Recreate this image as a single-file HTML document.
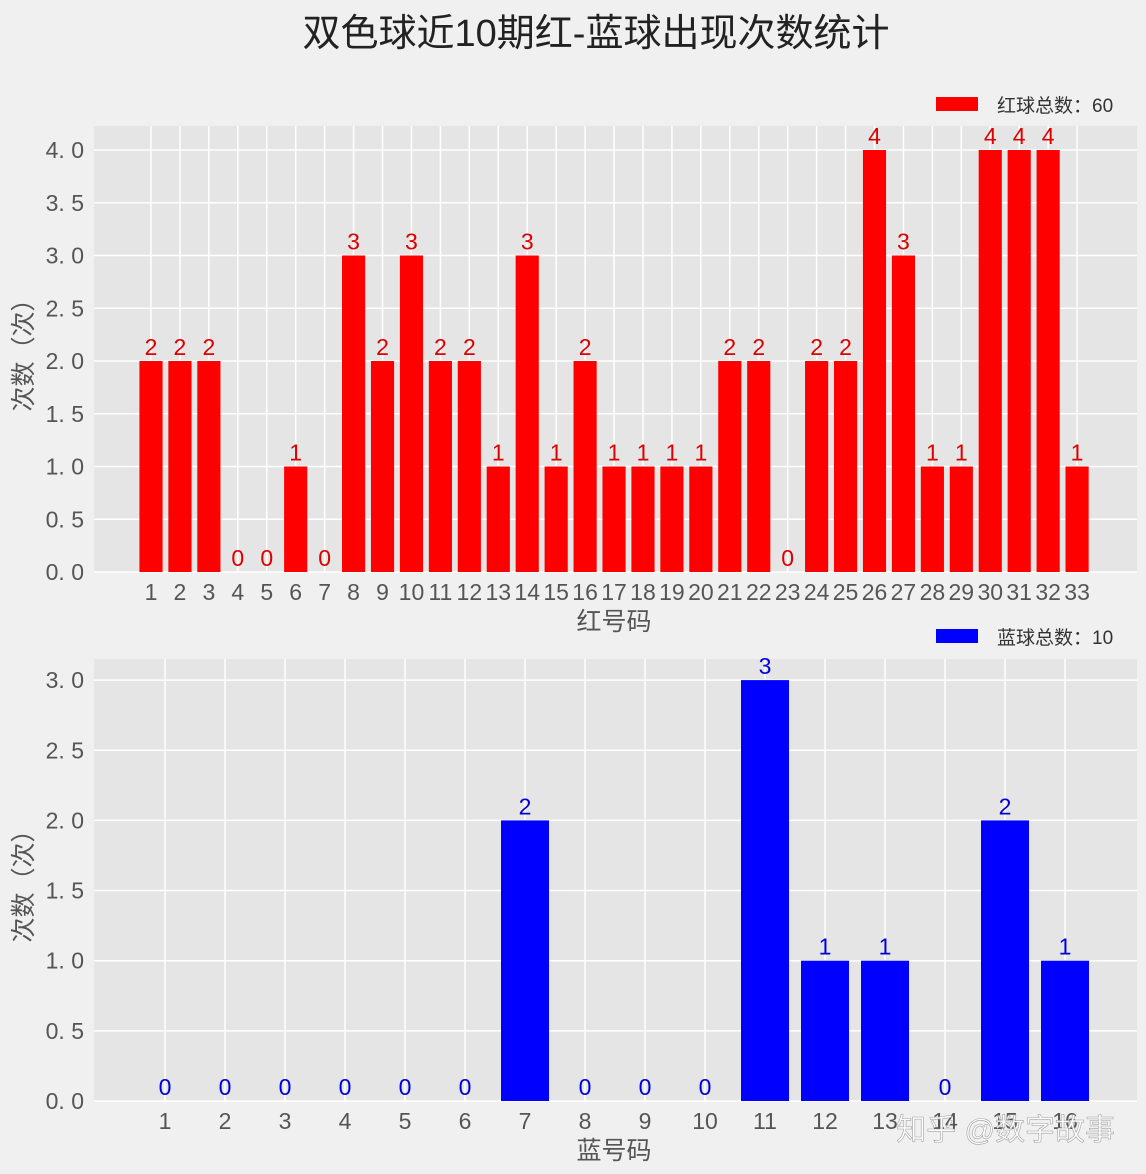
<!DOCTYPE html>
<html><head><meta charset="utf-8"><style>
body{margin:0;background:#f0f0f0;}
svg{display:block;font-family:"Liberation Sans","Noto Sans CJK SC",sans-serif;}
</style></head><body>
<svg id="c" width="1146" height="1174">
<rect width="1146" height="1174" fill="#f0f0f0"/>
<text x="596" y="46" text-anchor="middle" font-size="38" fill="#222">双色球近10期红-蓝球出现次数统计</text>
</svg>
<script>
const redCats=[1,2,3,4,5,6,7,8,9,10,11,12,13,14,15,16,17,18,19,20,21,22,23,24,25,26,27,28,29,30,31,32,33];
const redVals=[2,2,2,0,0,1,0,3,2,3,2,2,1,3,1,2,1,1,1,1,2,2,0,2,2,4,3,1,1,4,4,4,1];
const redTicks=[0,0.5,1,1.5,2,2.5,3,3.5,4];
const blueCats=[1,2,3,4,5,6,7,8,9,10,11,12,13,14,15,16];
const blueVals=[0,0,0,0,0,0,2,0,0,0,3,1,1,0,2,1];
const blueTicks=[0,0.5,1,1.5,2,2.5,3];
const NS='http://www.w3.org/2000/svg';
const svg=document.getElementById('c');
function mk(t,a,p){const e=document.createElementNS(NS,t);for(const k in a)e.setAttribute(k,a[k]);(p||svg).appendChild(e);return e;}
function panel(o){
  const g=mk('g',{});
  
  
  const L=94,R=1137;
  const x=v=>o.x0+(v-o.c0)*o.dx;
  const y=v=>o.y0-v*o.dy;
  const bg=mk('rect',{x:L,y:o.top,width:R-L,height:o.y0-o.top,fill:'#e5e5e5'},g);
  
  
  o.ticks.forEach(t=>{
    mk('line',{x1:L,x2:R,y1:y(t),y2:y(t),stroke:'#fff','stroke-width':1.5},g);
    const tl=mk('text',{x:84,y:y(t)+8,'text-anchor':'end','font-size':23,fill:'#555'},g);
    tl.textContent=t.toFixed(1).replace('.','. ');
    
    
  });
  o.cats.forEach(c=>{mk('line',{x1:x(c),x2:x(c),y1:o.top,y2:o.y0,stroke:'#fff','stroke-width':1.5},g);});
  o.cats.forEach((c,i)=>{
    const v=o.vals[i];const w=o.dx*0.8;
    const b=mk('rect',{x:x(c)-w/2,y:y(v),width:w,height:o.y0-y(v),fill:o.color},g);
    
    
    const vl=mk('text',{x:x(c),y:y(v)-6,'text-anchor':'middle','font-size':23,fill:o.lc},g);
    vl.textContent=v;
    
    
    const xl=mk('text',{x:x(c),y:o.y0+28,'text-anchor':'middle','font-size':23,fill:'#555'},g);
    xl.textContent=c;
    
    
  });
  const xt=mk('text',{x:614,y:o.y0+58,'text-anchor':'middle','font-size':25,fill:'#555'},g);
  xt.textContent=o.xlabel;
  
  
  const cy=(o.top+o.y0)/2;
  const yt=mk('text',{x:0,y:0,'text-anchor':'middle','font-size':25,fill:'#555',transform:`translate(32,${cy}) rotate(-90)`},g);
  yt.textContent='次数（次）';
  
  
  const lp=mk('rect',{x:936,y:o.ly-8,width:42,height:14,fill:o.color},g);
  
  
  const lt=mk('text',{x:997,y:o.ly+7,'font-size':19,fill:'#333'},g);
  lt.textContent=o.legend;
  
  
}
panel({name:'red-panel',cats:redCats,vals:redVals,ticks:redTicks,color:'#ff0000',lc:'#dd0000',top:126,y0:572,dy:105.5,x0:151,c0:1,dx:28.94,xlabel:'红号码',legend:'红球总数：60',ly:105});
panel({name:'blue-panel',cats:blueCats,vals:blueVals,ticks:blueTicks,color:'#0000ff',lc:'#0000dd',top:659,y0:1101,dy:140.3,x0:165,c0:1,dx:60,xlabel:'蓝号码',legend:'蓝球总数：10',ly:637});
const wm=mk('text',{x:1115,y:1140,'text-anchor':'end','font-size':30,fill:'#fff',stroke:'#999','stroke-width':0.6,opacity:0.9});
wm.textContent='知乎 @数字故事';


</script>
</body></html>
